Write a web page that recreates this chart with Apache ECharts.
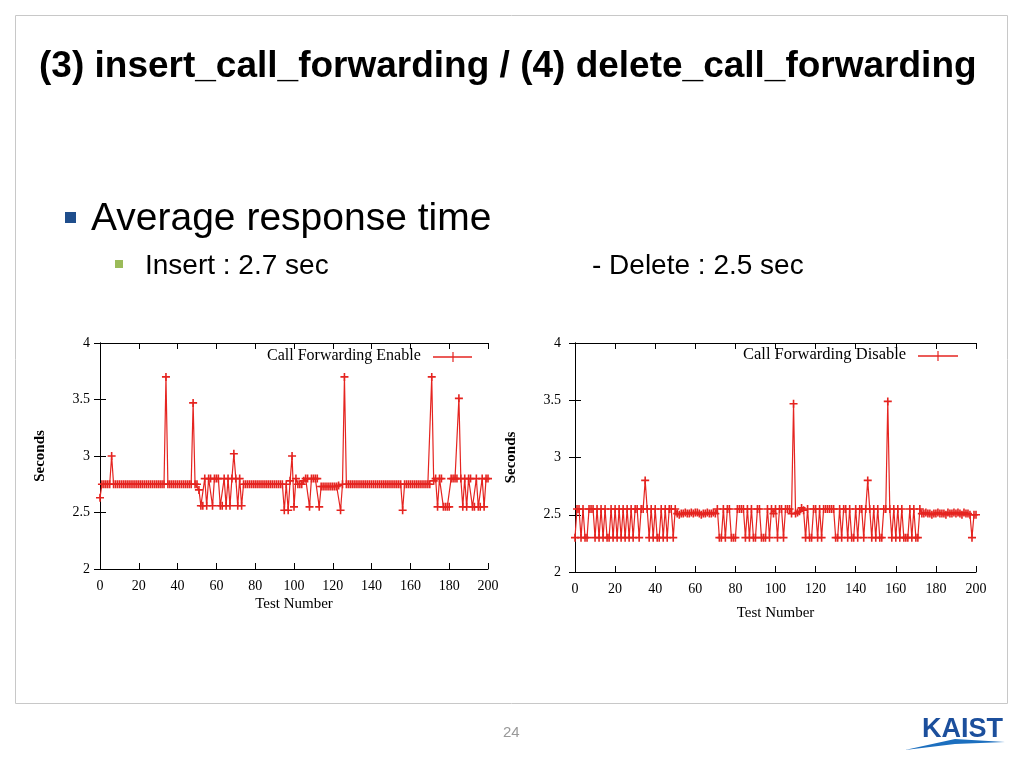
<!DOCTYPE html>
<html><head><meta charset="utf-8">
<script src="https://cdn.jsdelivr.net/npm/echarts@6/dist/echarts.min.js"></script>
<style>html,body{margin:0;padding:0;background:#fff}#c{width:1024px;height:768px}</style>
</head><body><div id="c"></div>
<script>
const insertTimes = [
2.63,2.75,2.75,2.75,2.75,2.75,3.0,2.75,2.75,2.75,
2.75,2.75,2.75,2.75,2.75,2.75,2.75,2.75,2.75,2.75,
2.75,2.75,2.75,2.75,2.75,2.75,2.75,2.75,2.75,2.75,
2.75,2.75,2.75,2.75,3.7,2.75,2.75,2.75,2.75,2.75,
2.75,2.75,2.75,2.75,2.75,2.75,2.75,2.75,3.47,2.75,
2.75,2.7,2.56,2.56,2.8,2.56,2.8,2.8,2.56,2.8,
2.8,2.8,2.56,2.56,2.8,2.56,2.8,2.56,2.8,3.02,
2.8,2.56,2.8,2.56,2.75,2.75,2.75,2.75,2.75,2.75,
2.75,2.75,2.75,2.75,2.75,2.75,2.75,2.75,2.75,2.75,
2.75,2.75,2.75,2.75,2.75,2.52,2.75,2.52,2.78,3.0,
2.55,2.8,2.75,2.75,2.75,2.78,2.8,2.8,2.55,2.8,
2.8,2.8,2.8,2.55,2.73,2.73,2.73,2.73,2.73,2.73,
2.73,2.73,2.73,2.74,2.52,2.75,3.7,2.75,2.75,2.75,
2.75,2.75,2.75,2.75,2.75,2.75,2.75,2.75,2.75,2.75,
2.75,2.75,2.75,2.75,2.75,2.75,2.75,2.75,2.75,2.75,
2.75,2.75,2.75,2.75,2.75,2.75,2.52,2.75,2.75,2.75,
2.75,2.75,2.75,2.75,2.75,2.75,2.75,2.75,2.75,2.75,
2.75,3.7,2.78,2.8,2.55,2.8,2.8,2.55,2.55,2.55,
2.55,2.8,2.8,2.8,2.8,3.51,2.8,2.55,2.8,2.55,
2.8,2.8,2.55,2.55,2.8,2.55,2.55,2.8,2.55,2.8,2.8];
const deleteTimes = [
2.3,2.55,2.55,2.3,2.55,2.3,2.3,2.55,2.55,2.55,
2.3,2.55,2.3,2.55,2.3,2.55,2.3,2.3,2.55,2.3,
2.55,2.3,2.55,2.3,2.55,2.3,2.55,2.3,2.55,2.3,
2.55,2.55,2.3,2.55,2.55,2.8,2.55,2.3,2.55,2.3,
2.55,2.3,2.3,2.55,2.3,2.55,2.3,2.55,2.55,2.3,
2.55,2.51,2.5,2.51,2.51,2.52,2.51,2.51,2.52,2.51,
2.52,2.52,2.51,2.5,2.51,2.51,2.52,2.51,2.51,2.52,
2.51,2.55,2.3,2.3,2.55,2.3,2.55,2.55,2.3,2.3,
2.3,2.55,2.55,2.55,2.55,2.3,2.55,2.3,2.55,2.3,
2.3,2.55,2.55,2.3,2.3,2.3,2.55,2.3,2.55,2.51,
2.55,2.3,2.55,2.55,2.3,2.55,2.55,2.55,2.51,3.47,
2.51,2.52,2.53,2.56,2.54,2.3,2.55,2.3,2.3,2.55,
2.55,2.3,2.55,2.3,2.55,2.55,2.55,2.55,2.55,2.55,
2.3,2.3,2.55,2.3,2.55,2.55,2.3,2.55,2.3,2.3,
2.55,2.3,2.55,2.55,2.3,2.55,2.8,2.55,2.3,2.55,
2.3,2.55,2.3,2.3,2.55,2.55,3.49,2.55,2.3,2.55,
2.3,2.55,2.3,2.55,2.3,2.3,2.3,2.55,2.3,2.55,
2.3,2.3,2.55,2.51,2.51,2.52,2.51,2.51,2.5,2.51,
2.51,2.52,2.51,2.51,2.51,2.5,2.52,2.51,2.51,2.52,
2.51,2.52,2.51,2.5,2.52,2.51,2.51,2.5,2.3,2.5,2.5];
const xTicks = [0,20,40,60,80,100,120,140,160,180,200];
const yTicks = ['2','2.5','3','3.5','4'];

const RED = '#e52420';
const PLUS = 'path://M4,0H6V4H10V6H6V10H4V6H0V4H4Z';
const serif = 'Liberation Serif';
function pts(arr){ return arr.map((v,i)=>[i,v]); }

const grids = [
  {left:100, top:343, width:388, height:226},
  {left:575, top:343, width:401, height:229}
];
const xAxes=[], yAxes=[];
grids.forEach((g,i)=>{
  xAxes.push({gridIndex:i,type:'value',min:0,max:200,interval:20,
    axisLine:{lineStyle:{color:'#000'}},axisTick:{inside:true,length:6,lineStyle:{color:'#000'}},
    axisLabel:{fontFamily:serif,fontSize:14,color:'#000',margin:10},splitLine:{show:false},
    name:'Test Number',nameLocation:'middle',nameGap:i===0?28:34,nameTextStyle:{fontFamily:serif,fontSize:15,color:'#000'}});
  xAxes.push({gridIndex:i,type:'value',position:'top',min:0,max:200,interval:20,
    axisLine:{lineStyle:{color:'#000'}},axisTick:{inside:true,length:6,lineStyle:{color:'#000'}},
    axisLabel:{show:false},splitLine:{show:false}});
  yAxes.push({gridIndex:i,type:'value',position:'left',min:2,max:4,interval:0.5,
    axisLine:{show:true,lineStyle:{color:'#000'}},axisTick:{show:true,inside:true,length:6,lineStyle:{color:'#000'}},
    axisLabel:{fontFamily:serif,fontSize:14,color:'#000',margin:i===0?10:14,formatter:v=>yTicks[Math.round((v-2)*2)]},splitLine:{show:false},
    name:'Seconds',nameLocation:'middle',nameGap:i===0?52:56,nameTextStyle:{fontFamily:serif,fontSize:15,fontWeight:'bold',color:'#000'}});
  yAxes.push({gridIndex:i,type:'value',position:'right',min:2,max:4,interval:0.5,
    axisLine:{show:true,lineStyle:{color:'#000'}},axisTick:{show:true,inside:true,length:6,lineStyle:{color:'#000'}},
    axisLabel:{show:false},splitLine:{show:false}});
});
function series(data,i){
  return {type:'line',xAxisIndex:i*2,yAxisIndex:i*2,data:pts(data),symbol:PLUS,symbolSize:8,
    showAllSymbol:true,lineStyle:{color:RED,width:1.2},itemStyle:{color:RED},animation:false};
}
function txt(x,y,text,font,fill){
  return {type:'text',x:x,y:y,style:{text:text,font:font,fill:fill||'#000',textVerticalAlign:'top'}};
}
const chart = echarts.init(document.getElementById('c'));
chart.setOption({
  animation:false,
  grid:grids, xAxis:xAxes, yAxis:yAxes,
  series:[series(insertTimes,0),series(deleteTimes,1)],
  graphic:[
    {type:'rect',shape:{x:15.5,y:15.5,width:992,height:688},style:{fill:'none',stroke:'#c8c8c8',lineWidth:1}},
    txt(39,48,'(3) insert_call_forwarding / (4) delete_call_forwarding','bold 37px "Liberation Sans"'),
    {type:'rect',shape:{x:65,y:212,width:11,height:11},style:{fill:'#1f4e8c'}},
    txt(91,200,'Average response time','39px "Liberation Sans"'),
    {type:'rect',shape:{x:115,y:260,width:8,height:8},style:{fill:'#9bbb59'}},
    txt(145,252,'Insert : 2.7 sec','28px "Liberation Sans"'),
    txt(592,252,'- Delete : 2.5 sec','28px "Liberation Sans"'),
    txt(267,348,'Call Forwarding Enable','16px "Liberation Serif"'),
    {type:'line',shape:{x1:433,y1:357,x2:472,y2:357},style:{stroke:RED,lineWidth:1.5}},
    {type:'line',shape:{x1:453,y1:352,x2:453,y2:362},style:{stroke:RED,lineWidth:1.2}},
    txt(743,346,'Call Forwarding Disable','16.5px "Liberation Serif"'),
    {type:'line',shape:{x1:918,y1:356,x2:958,y2:356},style:{stroke:RED,lineWidth:1.5}},
    {type:'line',shape:{x1:938,y1:351,x2:938,y2:361},style:{stroke:RED,lineWidth:1.2}},
    txt(503,725,'24','15px "Liberation Sans"','#999'),
    txt(922,716,'KAIST','bold 27px "Liberation Sans"','#1c4f9c'),
    {type:'polygon',shape:{points:[[905,750],[955,739],[1005,742],[955,744]]},style:{fill:'#1c6fbf'}}
  ]
});
</script></body></html>
